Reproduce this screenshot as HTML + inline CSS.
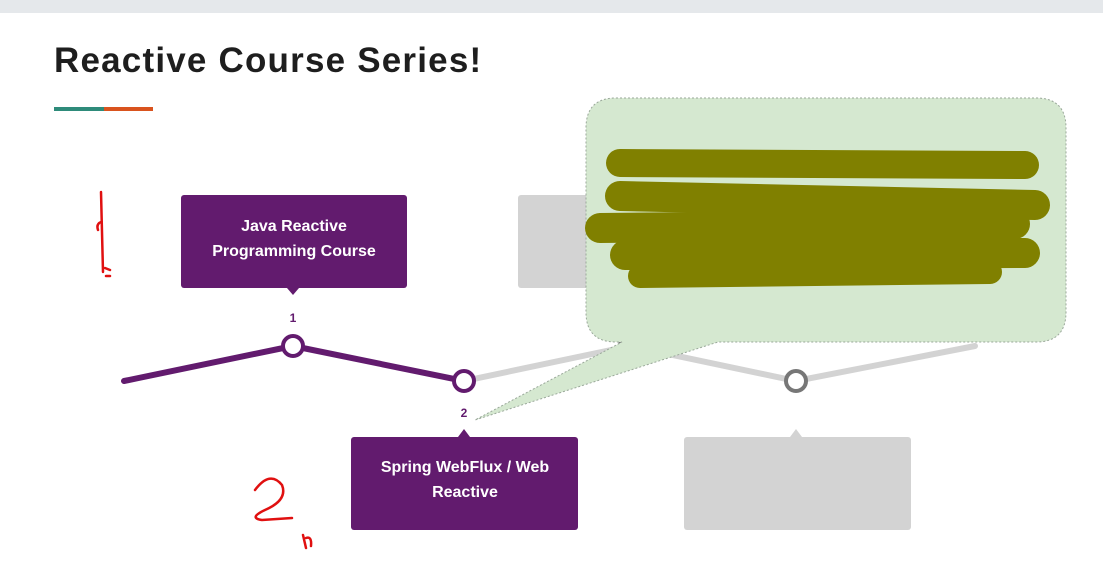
<!DOCTYPE html>
<html><head><meta charset="utf-8"><style>
body{margin:0;width:1103px;height:568px;overflow:hidden;background:#fff;font-family:"Liberation Sans",sans-serif}
</style></head><body>
<svg width="1103" height="568" xmlns="http://www.w3.org/2000/svg" style="display:block">
<rect x="0" y="0" width="1103" height="13" fill="#e5e8eb"/>
<text x="54" y="72" font-size="35" font-weight="bold" letter-spacing="1.2" fill="#1e1e1e" font-family="Liberation Sans,sans-serif">Reactive Course Series!</text>
<rect x="54" y="107" width="50" height="4" fill="#2e8b7a"/>
<rect x="104" y="107" width="49" height="4" fill="#d9531e"/>
<rect x="518" y="195" width="227" height="93" rx="3" fill="#d3d3d3"/>
<rect x="684" y="437" width="227" height="93" rx="3" fill="#d3d3d3"/>
<polygon points="790,437 802,437 796,429" fill="#d3d3d3"/>
<polyline points="464,381 630,346 796,381 975,346" fill="none" stroke="#d3d3d3" stroke-width="6" stroke-linecap="round" stroke-linejoin="round"/>
<polyline points="124,381 293,346 464,381" fill="none" stroke="#621b6e" stroke-width="6" stroke-linecap="round" stroke-linejoin="round"/>
<circle cx="630" cy="346" r="10" fill="#fff" stroke="#777" stroke-width="4"/>
<circle cx="796" cy="381" r="10" fill="#fff" stroke="#777" stroke-width="4"/>
<circle cx="293" cy="346" r="10" fill="#fff" stroke="#621b6e" stroke-width="4"/>
<circle cx="464" cy="381" r="10" fill="#fff" stroke="#621b6e" stroke-width="4"/>
<text x="293" y="322" font-size="12" font-weight="bold" fill="#621b6e" text-anchor="middle">1</text>
<text x="464" y="417" font-size="12" font-weight="bold" fill="#621b6e" text-anchor="middle">2</text>
<rect x="181" y="195" width="226" height="93" rx="3" fill="#621b6e"/>
<polygon points="287,288 299,288 293,295" fill="#621b6e"/>
<text x="294" y="231" font-size="16" font-weight="bold" fill="#fff" text-anchor="middle">Java Reactive</text>
<text x="294" y="256" font-size="16" font-weight="bold" fill="#fff" text-anchor="middle">Programming Course</text>
<rect x="351" y="437" width="227" height="93" rx="3" fill="#621b6e"/>
<polygon points="458,437 470,437 464,429" fill="#621b6e"/>
<text x="465" y="472" font-size="16" font-weight="bold" fill="#fff" text-anchor="middle">Spring WebFlux / Web</text>
<text x="465" y="497" font-size="16" font-weight="bold" fill="#fff" text-anchor="middle">Reactive</text>
<path d="M616,98 H1036 Q1066,98 1066,128 V312 Q1066,342 1036,342 H718 L475,420 L622,342 H616 Q586,342 586,312 V128 Q586,98 616,98 Z" fill="#d5e8d0" stroke="#9aa89a" stroke-width="1" stroke-dasharray="2,2"/>
<g stroke="#808000" stroke-linecap="round" fill="none">
<path d="M620,163 L1025,165" stroke-width="28"/>
<path d="M620,196 L1035,205" stroke-width="30"/>
<path d="M600,228 L1015,224" stroke-width="30"/>
<path d="M625,255 L1025,253" stroke-width="30"/>
<path d="M640,276 L990,272" stroke-width="24"/>
</g>
<g stroke="#e01010" fill="none" stroke-width="2.5" stroke-linecap="round">
<path d="M101,192 L103,272 M98,230 Q96,224 101,222"/>
<path d="M105,268 L110,270 M106,276 L110,276"/>
<path d="M255,490 Q270,470 282,485 Q288,500 265,510 Q248,518 262,520 L292,518"/>
<path d="M303,535 L306,548 M306,538 Q312,536 311,546"/>
</g>
</svg>
</body></html>
